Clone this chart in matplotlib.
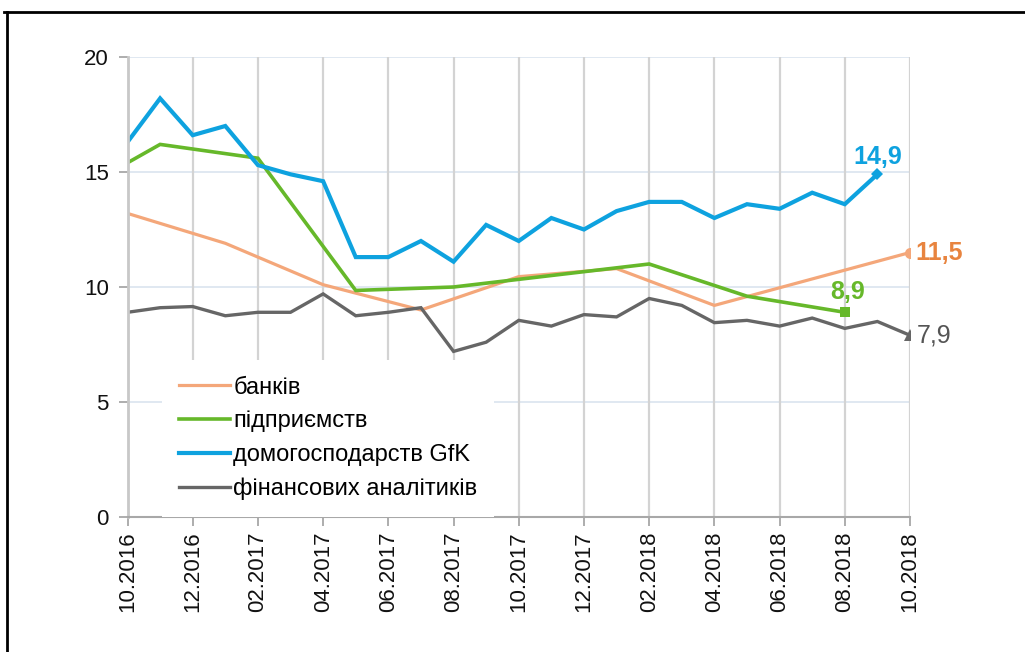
import numpy as np
import pandas as pd
import matplotlib.pyplot as plt
from matplotlib.lines import Line2D

plt.rcParams['font.family'] = ['Liberation Sans', 'DejaVu Sans']

months = ['10.2016', '11.2016', '12.2016', '01.2017', '02.2017', '03.2017',
          '04.2017', '05.2017', '06.2017', '07.2017', '08.2017', '09.2017',
          '10.2017', '11.2017', '12.2017', '01.2018', '02.2018', '03.2018',
          '04.2018', '05.2018', '06.2018', '07.2018', '08.2018', '09.2018',
          '10.2018']

nan = np.nan
# inflation expectations, % (quarterly surveys left with gaps)
banks = [13.2, nan, nan, 11.9, nan, nan, 10.1, nan, nan, 9.0, nan, nan,
         10.45, nan, nan, 10.8, nan, nan, 9.2, nan, nan, 10.35, nan, nan, 11.5]
firms = [15.4, 16.2, nan, nan, 15.6, nan, nan, 9.85, nan, nan, 10.0, nan,
         nan, 10.5, nan, nan, 11.0, nan, nan, 9.6, nan, nan, 8.9, nan, nan]
households = [16.3, 18.2, 16.6, 17.0, 15.3, 14.9, 14.6, 11.3, 11.3, 12.0,
              11.1, 12.7, 12.0, 13.0, 12.5, 13.3, 13.7, 13.7, 13.0, 13.6,
              13.4, 14.1, 13.6, 14.9, nan]
analysts = [8.9, 9.1, 9.15, 8.75, 8.9, 8.9, 9.7, 8.75, 8.9, 9.1, 7.2, 7.6,
            8.55, 8.3, 8.8, 8.7, 9.5, 9.2, 8.45, 8.55, 8.3, 8.65, 8.2, 8.5, 7.9]

names = ['банків', 'підприємств', 'домогосподарств GfK', 'фінансових аналітиків']
end_labels = ['11,5', '8,9', '14,9', '7,9']

fig = plt.figure(figsize=(10.25, 6.52), dpi=100)
ax = fig.add_axes([127.5 / 1025, 1 - 517 / 652, 782.5 / 1025, 460 / 652])

# (colour, label colour, width, marker, marker size, label offset, ha, weight)
styles = [
    ('#F4A77A', '#E8843F', 2.3, 'o', 8, (4, 0), 'left', 'bold'),
    ('#66B82A', '#66B82A', 2.6, 's', 7.5, (2, 6), 'center', 'bold'),
    ('#0EA2DF', '#0EA2DF', 3.0, 'D', 6.5, (0, 4), 'center', 'bold'),
    ('#666666', '#555555', 2.4, '^', 8, (5, 0), 'left', 'normal'),
]

for vals, name, lab, st in zip([banks, firms, households, analysts], names,
                               end_labels, styles):
    s = pd.Series(vals).dropna()
    col, lcol, lw, mk, ms, off, ha, wt = st
    ax.plot(s.index, s.values, color=col, lw=lw, label=name,
            solid_joinstyle='miter')
    ax.plot(s.index[-1], s.values[-1], marker=mk, color=col, ms=ms, mew=0)
    ax.annotate(lab, (s.index[-1], s.values[-1]), xytext=off,
                textcoords='offset points', ha=ha,
                va='center' if ha == 'left' else 'bottom',
                color=lcol, fontsize=18, fontweight=wt)

ax.set_xlim(0, 24)
ax.set_ylim(0, 20)
ax.set_yticks([0, 5, 10, 15, 20])
ax.set_xticks(range(0, 25, 2))
ax.set_xticklabels(months[::2], rotation=90)
ax.tick_params(axis='both', labelsize=16, colors='#A0A0A0',
               labelcolor='#111111', length=6.5, width=1.2)
ax.tick_params(axis='y', pad=7)
ax.tick_params(axis='x', pad=4)

ax.grid(axis='x', color='#D3D3D3', lw=1.6)
ax.set_axisbelow(True)
for yv in [5, 10, 15, 20]:
    ax.axhline(yv, color='#DDE6F0', lw=1.3, zorder=0)

for sp in ['top', 'right']:
    ax.spines[sp].set_visible(False)
ax.spines['left'].set_color('#C8C8C8')
ax.spines['left'].set_linewidth(2)
ax.spines['bottom'].set_color('#A8A8A8')
ax.spines['bottom'].set_linewidth(1.5)

leg = ax.legend(loc='upper left',
                bbox_to_anchor=((162 - 127.5) / 782.5, (517 - 360) / 460),
                borderaxespad=0, frameon=True, fancybox=False,
                facecolor='white', edgecolor='white', framealpha=1,
                fontsize=17, handlelength=2.2, handletextpad=0.12,
                labelspacing=0.5, borderpad=0.7)
leg.get_frame().set_linewidth(0)

# outer frame of the original figure
fig.add_artist(Line2D([4 / 1025, 1], [1 - 12 / 652] * 2, color='black', lw=2))
fig.add_artist(Line2D([7 / 1025] * 2, [0, 1 - 12 / 652], color='black', lw=2))

fig.savefig('out.png', dpi=100)
